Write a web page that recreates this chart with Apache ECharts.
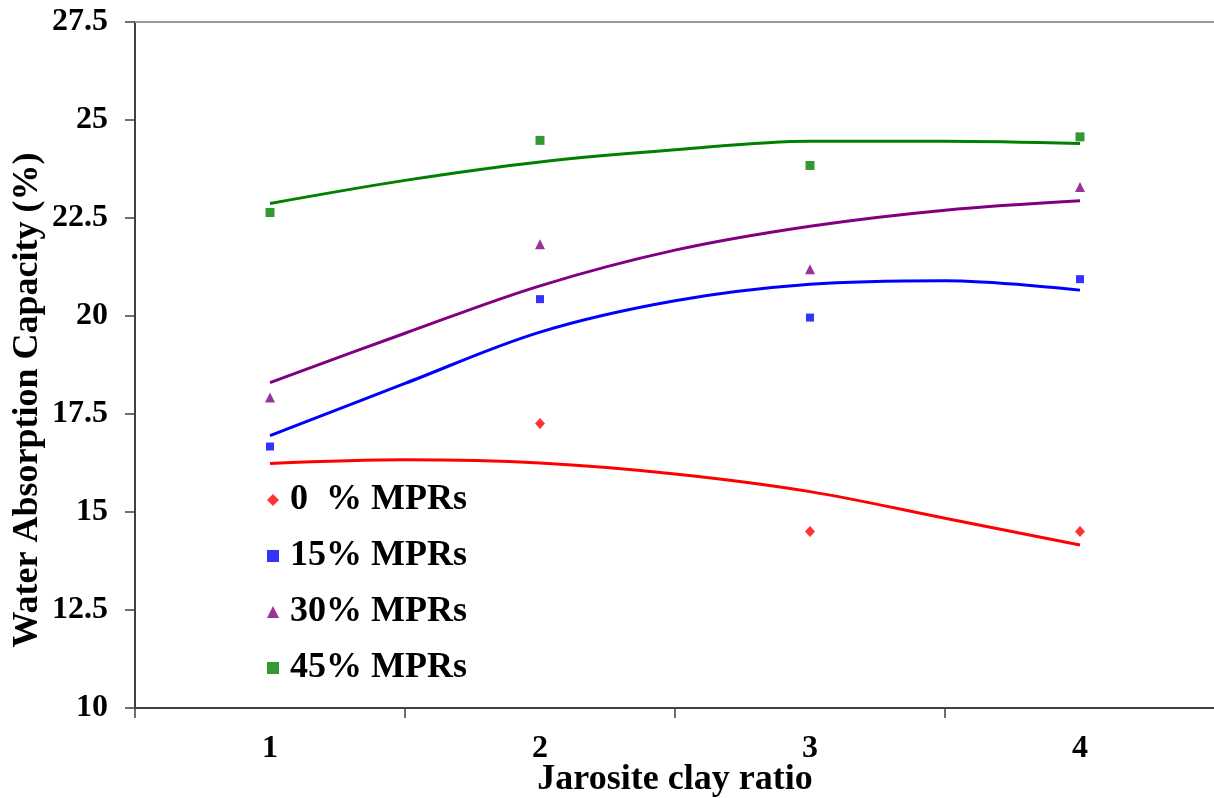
<!DOCTYPE html>
<html>
<head>
<meta charset="utf-8">
<script src="https://cdn.jsdelivr.net/npm/echarts@6/dist/echarts.min.js"></script>
<style>
html,body{margin:0;padding:0;background:#fff;overflow:hidden;}
#main{width:1214px;height:798px;}
</style>
</head>
<body>
<div id="main"></div>
<script>
// ---- data ----
const categories = ['1', '2', '3', '4'];
const seriesNames = ['0  % MPRs', '15% MPRs', '30% MPRs', '45% MPRs'];
const mpr0 = [null, 17.26, 14.5, 14.5];
const mpr15 = [16.67, 20.43, 19.96, 20.94];
const mpr30 = [17.92, 21.83, 21.19, 23.29];
const mpr45 = [22.64, 24.48, 23.84, 24.57];
// trend curves at these x positions
const trendX = [1, 1.5, 2, 2.5, 3, 3.5, 4];
const trend0 = [16.24, 16.33, 16.25, 15.97, 15.52, 14.84, 14.16];
const trend15 = [16.95, 18.28, 19.59, 20.39, 20.81, 20.90, 20.66];
const trend30 = [18.30, 19.56, 20.77, 21.68, 22.29, 22.70, 22.94];
const trend45 = [22.87, 23.46, 23.93, 24.24, 24.46, 24.46, 24.40];
const yMin = 10, yMax = 27.5, yStep = 2.5;
const xTitle = 'Jarosite clay ratio';
const yTitle = 'Water Absorption Capacity (%)';

const colors = ['#FF0000', '#0000FF', '#800080', '#008000'];
const symbols = ['diamond', 'rect', 'triangle', 'rect'];
const symbolSizes = [[10, 11], 8, [10, 10], 9];
const pointSets = [mpr0, mpr15, mpr30, mpr45];
const trendSets = [trend0, trend15, trend30, trend45];
const FONT = '"Liberation Serif", "Times New Roman", serif';

const series = [];
trendSets.forEach((t, i) => {
  series.push({
    name: 'trend' + i,
    type: 'line',
    xAxisIndex: 1,
    yAxisIndex: 0,
    smooth: 0.35,
    showSymbol: false,
    symbol: 'none',
    silent: true,
    z: 2,
    lineStyle: { color: colors[i], width: 3 },
    data: trendX.map((x, k) => [x, t[k]])
  });
});
pointSets.forEach((p, i) => {
  series.push({
    name: seriesNames[i],
    type: 'scatter',
    xAxisIndex: 0,
    yAxisIndex: 0,
    symbol: symbols[i],
    symbolSize: symbolSizes[i],
    itemStyle: { color: colors[i] },
    z: 3,
    data: p
  });
});

const chart = echarts.init(document.getElementById('main'), null, { renderer: 'canvas' });
chart.setOption({
  backgroundColor: '#ffffff',
  animation: false,
  grid: { left: 135, top: 22, width: 1080, height: 686, containLabel: false, outerBoundsMode: 'none' },
  legend: {
    data: seriesNames,
    orient: 'vertical',
    left: 262,
    top: 477,
    itemGap: 20,
    itemWidth: 12,
    itemHeight: 12,
    textStyle: { fontFamily: FONT, fontWeight: 'bold', fontSize: 36, color: '#000', padding: [0, 0, 0, 6] }
  },
  xAxis: [
    {
      type: 'category',
      data: categories,
      boundaryGap: true,
      position: 'bottom',
      axisLine: { lineStyle: { color: '#404040', width: 2 } },
      axisTick: { show: true, inside: false, length: 10, lineStyle: { color: '#404040', width: 1.5 } },
      axisLabel: { fontFamily: FONT, fontWeight: 'bold', fontSize: 32, color: '#000', margin: 25 },
      splitLine: { show: false },
      name: xTitle,
      nameLocation: 'middle',
      nameGap: 54,
      nameMoveOverlap: false,
      nameTextStyle: { fontFamily: FONT, fontWeight: 'bold', fontSize: 36, color: '#000' }
    },
    {
      type: 'value',
      min: 0.5,
      max: 4.5,
      position: 'top',
      axisLine: { show: true, onZero: false, lineStyle: { color: '#9a9a9a', width: 2 } },
      axisTick: { show: false },
      axisLabel: { show: false },
      splitLine: { show: false }
    }
  ],
  yAxis: [{
    type: 'value',
    min: yMin,
    max: yMax,
    interval: yStep,
    axisLine: { show: true, lineStyle: { color: '#404040', width: 2 } },
    axisTick: { show: true, inside: false, length: 10, lineStyle: { color: '#404040', width: 1.5 } },
    axisLabel: { fontFamily: FONT, fontWeight: 'bold', fontSize: 32, color: '#000', margin: 27 },
    splitLine: { show: false }
  }],
  graphic: [{
    type: 'text',
    x: 28,
    y: 400,
    rotation: Math.PI / 2,
    style: {
      text: yTitle,
      fontFamily: FONT,
      fontWeight: 'bold',
      fontSize: 36,
      fill: '#000',
      align: 'center',
      verticalAlign: 'middle'
    }
  }],
  series: series
});
</script>
</body>
</html>
